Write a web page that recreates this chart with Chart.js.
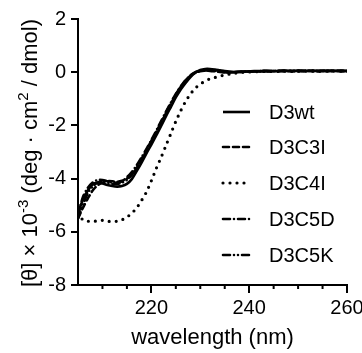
<!DOCTYPE html>
<html>
<head>
<meta charset="utf-8">
<script src="https://cdn.jsdelivr.net/npm/chart.js@4.4.1/dist/chart.umd.min.js"></script>
<style>
  html, body { margin: 0; padding: 0; background: #fff; }
  #wrap { width: 362px; height: 353px; position: relative; }
</style>
</head>
<body>
<div id="wrap"><canvas id="cd"></canvas></div>
<script>
const wavelength = [205, 206, 207, 208, 209, 210, 211, 212, 213, 214, 215, 216, 217, 218, 219, 220,
    221, 222, 223, 224, 225, 226, 227, 228, 229, 230, 231, 232, 233, 234, 235, 236, 237, 238, 239, 240,
    241, 242, 243, 244, 245, 246, 247, 248, 249, 250, 251, 252, 253, 254, 255, 256, 257, 258, 259, 260];

const d3wt = [-5.30, -4.80, -4.45, -4.22, -4.15, -4.18, -4.24, -4.28, -4.30, -4.28, -4.20, -4.02, -3.72, -3.40, -3.05, -2.72,
    -2.38, -2.02, -1.65, -1.30, -0.95, -0.65, -0.40, -0.18, -0.02, 0.08, 0.12, 0.12, 0.10, 0.07, 0.04, 0.02, 0.01, 0.01, 0.02, 0.03,
    0.04, 0.04, 0.05, 0.05, 0.04, 0.05, 0.06, 0.05, 0.05, 0.06, 0.05, 0.05, 0.06, 0.05, 0.05, 0.05, 0.06, 0.05, 0.05, 0.04];

const d3c3i = [-5.50, -5.10, -4.75, -4.45, -4.25, -4.15, -4.10, -4.10, -4.12, -4.08, -4.00, -3.85, -3.60, -3.30, -2.95, -2.62,
    -2.28, -1.92, -1.55, -1.20, -0.86, -0.56, -0.32, -0.14, -0.02, 0.04, 0.06, 0.05, 0.03, 0.01, 0.00, -0.01, 0.00, 0.01, 0.02, 0.02,
    0.03, 0.03, 0.04, 0.03, 0.04, 0.04, 0.05, 0.04, 0.04, 0.05, 0.04, 0.05, 0.05, 0.04, 0.05, 0.04, 0.05, 0.05, 0.04, 0.04];

const d3c4i = [-5.30, -5.55, -5.60, -5.62, -5.58, -5.57, -5.60, -5.62, -5.60, -5.55, -5.45, -5.30, -5.10, -4.82, -4.50, -4.08,
    -3.62, -3.20, -2.75, -2.30, -1.85, -1.45, -1.10, -0.82, -0.60, -0.45, -0.33, -0.25, -0.20, -0.15, -0.10, -0.07, -0.04, -0.02, 0.00, 0.01,
    0.02, 0.02, 0.03, 0.03, 0.02, 0.03, 0.04, 0.03, 0.03, 0.04, 0.03, 0.04, 0.04, 0.03, 0.04, 0.04, 0.04, 0.03, 0.04, 0.04];

const d3c5d = [-5.40, -4.70, -4.35, -4.15, -4.05, -4.05, -4.10, -4.15, -4.15, -4.10, -3.95, -3.75, -3.50, -3.20, -2.88, -2.55,
    -2.20, -1.84, -1.48, -1.14, -0.82, -0.54, -0.30, -0.12, 0.00, 0.06, 0.08, 0.07, 0.05, 0.03, 0.01, 0.00, 0.01, 0.02, 0.02, 0.03,
    0.03, 0.04, 0.04, 0.04, 0.05, 0.04, 0.05, 0.05, 0.04, 0.05, 0.05, 0.05, 0.04, 0.05, 0.05, 0.05, 0.05, 0.04, 0.05, 0.05];

const d3c5k = [-5.50, -5.00, -4.55, -4.30, -4.15, -4.10, -4.15, -4.20, -4.20, -4.15, -4.05, -3.85, -3.58, -3.26, -2.92, -2.58,
    -2.24, -1.88, -1.52, -1.17, -0.84, -0.55, -0.31, -0.13, -0.01, 0.05, 0.07, 0.06, 0.04, 0.02, 0.00, -0.01, 0.00, 0.01, 0.02, 0.03,
    0.03, 0.03, 0.04, 0.04, 0.04, 0.05, 0.04, 0.05, 0.05, 0.04, 0.05, 0.05, 0.05, 0.04, 0.05, 0.05, 0.04, 0.05, 0.05, 0.04];

const seriesNames = ['D3wt', 'D3C3I', 'D3C4I', 'D3C5D', 'D3C5K'];
const seriesValues = [d3wt, d3c3i, d3c4i, d3c5d, d3c5k];
const seriesDash = [[], [6, 4], [0, 7], [7, 4, 0, 4], [7, 4, 0, 4, 0, 4]];

const yTicks = [-8, -6, -4, -2, 0, 2];
const xLabels = [220, 240, 260];

const FONT = '"Liberation Sans", Arial, sans-serif';

const datasets = seriesNames.map((name, i) => ({
    label: name,
    data: wavelength.map((w, j) => ({ x: w, y: seriesValues[i][j] })),
    borderColor: '#000',
    borderWidth: i === 2 ? 3.2 : 2.6,
    borderDash: seriesDash[i],
    borderCapStyle: i === 0 ? 'butt' : 'round',
    pointRadius: 0,
    tension: 0.3,
    fill: false
}));

// y axis title with superscripts, drawn rotated
const yTitlePlugin = {
    id: 'yTitle',
    afterDraw(chart) {
        const ctx = chart.ctx;
        const area = chart.chartArea;
        const parts = [
            ['[θ] × 10', false], ['-3', true], [' (deg · cm', false], ['2', true], [' / dmol)', false]
        ];
        const big = '22px ' + FONT, small = '15px ' + FONT;
        ctx.save();
        let total = 0;
        parts.forEach(p => { ctx.font = p[1] ? small : big; total += ctx.measureText(p[0]).width; });
        ctx.translate(29, (area.top + area.bottom) / 2 + 1);
        ctx.rotate(-Math.PI / 2);
        ctx.fillStyle = '#000';
        ctx.textBaseline = 'alphabetic';
        let x = -total / 2;
        parts.forEach(p => {
            ctx.font = p[1] ? small : big;
            ctx.fillText(p[0], x, p[1] ? -1 : 8);
            x += ctx.measureText(p[0]).width;
        });
        ctx.restore();
    }
};

// minor x ticks (short) + legend inside plot
const extrasPlugin = {
    id: 'extras',
    afterDraw(chart) {
        const ctx = chart.ctx;
        const xs = chart.scales.x;
        ctx.save();
        ctx.strokeStyle = '#000';
        ctx.lineWidth = 2;
        xs.ticks.forEach(t => {
            if (t.value % 20 === 0 || t.value === xs.min) return;
            const px = xs.getPixelForValue(t.value);
            ctx.beginPath();
            ctx.moveTo(px, xs.top);
            ctx.lineTo(px, xs.top + 4);
            ctx.stroke();
        });

        // legend
        const lx0 = 223, lx1 = 250, tx = 269;
        const rowY = [112, 147, 183, 219, 255];
        ctx.font = '20px ' + FONT;
        ctx.fillStyle = '#000';
        ctx.textBaseline = 'middle';
        chart.data.datasets.forEach((ds, i) => {
            ctx.beginPath();
            ctx.lineWidth = ds.borderWidth;
            ctx.setLineDash(ds.borderDash);
            ctx.lineCap = ds.borderCapStyle;
            ctx.moveTo(lx0, rowY[i]);
            ctx.lineTo(lx1, rowY[i]);
            ctx.stroke();
            ctx.setLineDash([]);
            ctx.fillText(ds.label, tx, rowY[i] + 1);
        });
        ctx.restore();
    }
};

new Chart(document.getElementById('cd'), {
    type: 'line',
    data: { datasets: datasets },
    options: {
        responsive: true,
        maintainAspectRatio: false,
        animation: false,
        events: [],
        layout: { padding: { top: 19, right: 15, left: 0, bottom: 0 } },
        plugins: { legend: { display: false }, tooltip: { enabled: false } },
        scales: {
            x: {
                type: 'linear',
                min: 205,
                max: 260,
                border: { color: '#000', width: 2 },
                grid: {
                    drawOnChartArea: false,
                    drawTicks: true,
                    tickLength: 8,
                    lineWidth: 2,
                    tickColor: c => (c.tick && c.tick.value % 20 === 0) ? '#000' : 'rgba(0,0,0,0)'
                },
                ticks: {
                    stepSize: 5,
                    autoSkip: false,
                    maxRotation: 0,
                    padding: 3,
                    color: '#000',
                    font: { family: FONT, size: 20 },
                    callback: v => xLabels.includes(v) ? String(v) : ''
                },
                title: {
                    display: true,
                    text: 'wavelength (nm)',
                    color: '#000',
                    font: { family: FONT, size: 22 },
                    padding: { top: 0, bottom: 2 }
                },
                afterFit: s => { s.height = 68; s.paddingRight = 0; s.paddingLeft = 0; }
            },
            y: {
                min: -8,
                max: 2,
                border: { color: '#000', width: 2 },
                grid: {
                    drawOnChartArea: false,
                    drawTicks: true,
                    tickLength: 7,
                    lineWidth: 2,
                    color: '#000'
                },
                ticks: {
                    stepSize: 2,
                    padding: 5,
                    color: '#000',
                    font: { family: FONT, size: 20 },
                    callback: v => yTicks.includes(v) ? String(v) : ''
                },
                afterFit: s => { s.width = 78; }
            }
        }
    },
    plugins: [yTitlePlugin, extrasPlugin]
});
</script>
</body>
</html>
